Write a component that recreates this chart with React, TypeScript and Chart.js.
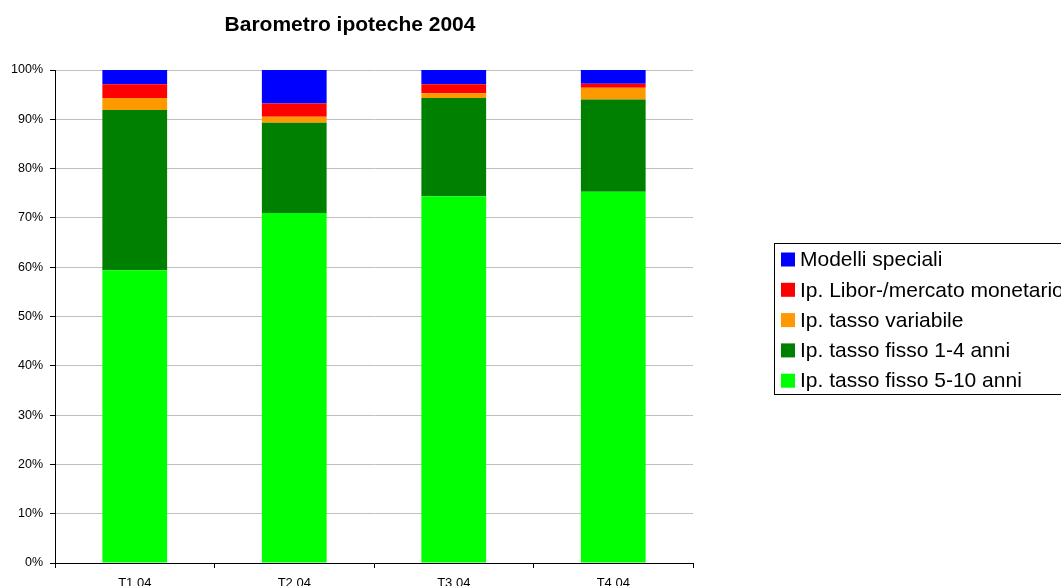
import React, { useEffect, useRef } from "react";
import { Chart, registerables } from "chart.js";

Chart.register(...registerables);

const categories = ["T1 04", "T2 04", "T3 04", "T4 04"];
const fisso510 = [59.4, 71.0, 74.4, 75.3];
const fisso14 = [32.5, 18.3, 19.9, 18.7];
const variabile = [2.4, 1.2, 1.0, 2.4];
const libor = [2.8, 2.7, 1.8, 0.8];
const speciali = [2.9, 6.8, 2.9, 2.8];
const yTicks = [0, 10, 20, 30, 40, 50, 60, 70, 80, 90, 100];
const titleText = "Barometro ipoteche 2004";

const FONT = "'Liberation Sans', Arial, sans-serif";

const series = [
  { label: "Ip. tasso fisso 5-10 anni", data: fisso510, color: "#00FF00" },
  { label: "Ip. tasso fisso 1-4 anni", data: fisso14, color: "#008000" },
  { label: "Ip. tasso variabile", data: variabile, color: "#FF9900" },
  { label: "Ip. Libor-/mercato monetario", data: libor, color: "#FF0000" },
  { label: "Modelli speciali", data: speciali, color: "#0000FF" },
];

const decorPlugin = {
  id: "decor",
  afterDraw(chart: any) {
    const ctx = chart.ctx;
    ctx.save();
    // title
    ctx.fillStyle = "#000";
    ctx.font = `bold 21px ${FONT}`;
    ctx.textAlign = "center";
    ctx.textBaseline = "alphabetic";
    ctx.fillText(titleText, 350, 31);
    // legend box
    const bx = 774.5, by = 243.5, bw = 300, bh = 151;
    ctx.strokeStyle = "#000";
    ctx.lineWidth = 1;
    ctx.strokeRect(bx, by, bw, bh);
    const ds = chart.data.datasets.slice().reverse();
    ctx.font = `21px ${FONT}`;
    ctx.textAlign = "left";
    ctx.textBaseline = "middle";
    ds.forEach((d: any, i: number) => {
      const cy = 259.5 + i * 30.3;
      ctx.fillStyle = d.backgroundColor;
      ctx.fillRect(781, cy - 7, 14, 14);
      ctx.fillStyle = "#000";
      ctx.fillText(d.label, 800, cy + 1);
    });
    ctx.restore();
  },
};

export default function App() {
  const ref = useRef<HTMLCanvasElement>(null);
  useEffect(() => {
    document.body.style.margin = "0";
    const chart = new Chart(ref.current as HTMLCanvasElement, {
      type: "bar",
      data: {
        labels: categories,
        datasets: series.map((s) => ({
          label: s.label,
          data: s.data,
          backgroundColor: s.color,
          borderWidth: 0,
          barPercentage: 0.406,
          categoryPercentage: 1,
        })),
      },
      options: {
        animation: false,
        responsive: false,
        layout: { padding: { top: 70, right: 368, left: 0, bottom: 0 } },
        plugins: { legend: { display: false }, title: { display: false }, tooltip: { enabled: false } },
        scales: {
          x: {
            stacked: true,
            offset: true,
            grid: {
              display: true,
              drawOnChartArea: false,
              drawTicks: true,
              tickLength: 5,
              tickColor: "#000",
              offset: true,
            },
            border: { color: "#000", width: 1 },
            ticks: { color: "#000", font: { family: FONT, size: 13 }, padding: 8, maxRotation: 0 },
            afterFit: (s: any) => { s.height = 23; },
          },
          y: {
            stacked: true,
            min: 0,
            max: 100,
            afterBuildTicks: (s: any) => { s.ticks = yTicks.map((v) => ({ value: v })); },
            grid: { color: "#c0c0c0", tickColor: "#000", tickLength: 5, drawTicks: true },
            border: { color: "#000", width: 1 },
            ticks: {
              color: "#000",
              font: { family: FONT, size: 12.5 },
              padding: 7,
              callback: (v: any) => v + "%",
            },
            afterFit: (s: any) => { s.width = 55; },
          },
        },
      },
      plugins: [decorPlugin],
    });
    return () => chart.destroy();
  }, []);
  return (
    <div style={{ position: "absolute", left: 0, top: 0, width: 1061, height: 586, background: "#fff" }}>
      <canvas ref={ref} width={1061} height={586} />
    </div>
  );
}
